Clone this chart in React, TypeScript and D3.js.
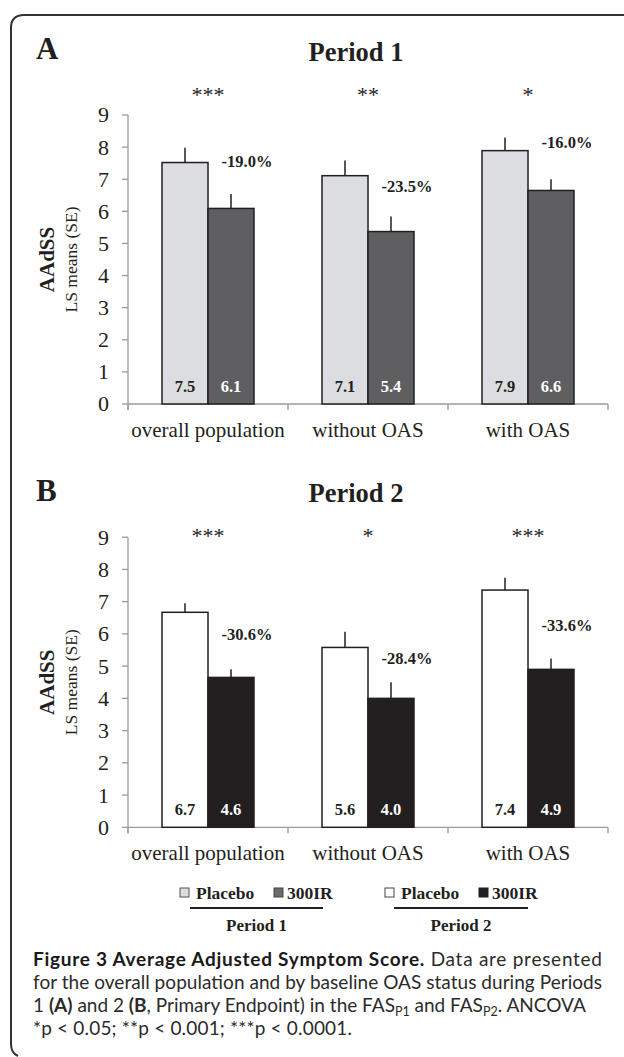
import React from "react";
import * as d3 from "d3";

const categories = ["overall population", "without OAS", "with OAS"];
const seriesKeys = ["Placebo", "300IR"];
const yTicks = [0, 1, 2, 3, 4, 5, 6, 7, 8, 9];

// Period 1
const p1Placebo = [7.52, 7.11, 7.89];
const p1Active = [6.09, 5.37, 6.65];
const p1PlaceboSE = [0.46, 0.47, 0.41];
const p1ActiveSE = [0.45, 0.47, 0.35];
const p1PlaceboLabels = ["7.5", "7.1", "7.9"];
const p1ActiveLabels = ["6.1", "5.4", "6.6"];
const p1Pct = ["-19.0%", "-23.5%", "-16.0%"];
const p1PctLevel = [7.55, 6.77, 8.14];
const p1Stars = ["***", "**", "*"];

// Period 2
const p2Placebo = [6.67, 5.58, 7.36];
const p2Active = [4.65, 4.0, 4.9];
const p2PlaceboSE = [0.28, 0.49, 0.38];
const p2ActiveSE = [0.25, 0.5, 0.34];
const p2PlaceboLabels = ["6.7", "5.6", "7.4"];
const p2ActiveLabels = ["4.6", "4.0", "4.9"];
const p2Pct = ["-30.6%", "-28.4%", "-33.6%"];
const p2PctLevel = [5.97, 5.24, 6.26];
const p2Stars = ["***", "*", "***"];

const SERIF = "'Liberation Serif', 'Times New Roman', serif";
const SANS = "Lato, 'Open Sans', sans-serif";
const INK = "#231f20";
const AXIS = "#9a9a9a";

const xScale = d3.scaleBand<string>().domain(categories).range([128, 608]).padding(0);
const inner = d3
  .scaleBand<string>()
  .domain(seriesKeys)
  .range([0, xScale.bandwidth()])
  .paddingInner(0)
  .paddingOuter(0.739);

type PanelProps = {
  letter: string;
  title: string;
  y0: number;
  y9: number;
  letterY: number;
  titleY: number;
  starY: number;
  placebo: number[];
  active: number[];
  placeboSE: number[];
  activeSE: number[];
  placeboLabels: string[];
  activeLabels: string[];
  pct: string[];
  pctLevel: number[];
  stars: string[];
  placeboFill: string;
  activeFill: string;
};

function Panel(p: PanelProps) {
  const y = d3.scaleLinear().domain([0, 9]).range([p.y0, p.y9]);
  const xr = xScale.range();
  const midY = (p.y0 + p.y9) / 2;
  return (
    <g>
      <text x={36} y={p.letterY} fontFamily={SERIF} fontWeight="bold" fontSize={31} fill={INK}>
        {p.letter}
      </text>
      <text x={356} y={p.titleY} textAnchor="middle" fontFamily={SERIF} fontWeight="bold" fontSize={26.5} fill={INK}>
        {p.title}
      </text>
      {categories.map((c, i) => (
        <text
          key={"s" + c}
          x={(xScale(c) as number) + xScale.bandwidth() / 2}
          y={p.starY}
          textAnchor="middle"
          fontFamily={SERIF}
          fontSize={22}
          fill="#222"
        >
          {p.stars[i]}
        </text>
      ))}
      {/* y axis */}
      <line x1={xr[0]} x2={xr[0]} y1={y(9)} y2={y(0) + 6} stroke={AXIS} strokeWidth={1.3} />
      {yTicks.map((t) => (
        <g key={"t" + t}>
          <line x1={xr[0] - 6} x2={xr[0]} y1={y(t)} y2={y(t)} stroke={AXIS} strokeWidth={1.3} />
          <text
            x={xr[0] - 19}
            y={y(t)}
            dy="0.34em"
            textAnchor="end"
            fontFamily={SERIF}
            fontSize={22}
            fill={INK}
          >
            {t}
          </text>
        </g>
      ))}
      {/* x axis */}
      <line x1={xr[0]} x2={xr[1]} y1={y(0)} y2={y(0)} stroke={AXIS} strokeWidth={1.3} />
      {[...categories.map((c) => xScale(c) as number), xr[1]].map((xx, i) => (
        <line key={"xt" + i} x1={xx} x2={xx} y1={y(0)} y2={y(0) + 6} stroke={AXIS} strokeWidth={1.3} />
      ))}
      {/* axis title */}
      <text
        transform={`translate(54,${midY}) rotate(-90)`}
        textAnchor="middle"
        fontFamily={SERIF}
        fontWeight="bold"
        fontSize={21}
        fill={INK}
      >
        AAdSS
      </text>
      <text
        transform={`translate(77,${midY}) rotate(-90)`}
        textAnchor="middle"
        fontFamily={SERIF}
        fontSize={17.5}
        fill={INK}
      >
        LS means (SE)
      </text>
      {categories.map((c, i) => {
        const gx = xScale(c) as number;
        const bw = inner.bandwidth();
        const series = [
          { key: "Placebo", v: p.placebo[i], se: p.placeboSE[i], lab: p.placeboLabels[i], fill: p.placeboFill, tc: INK },
          { key: "300IR", v: p.active[i], se: p.activeSE[i], lab: p.activeLabels[i], fill: p.activeFill, tc: "#ffffff" },
        ];
        return (
          <g key={"g" + c}>
            {series.map((s) => {
              const bx = gx + (inner(s.key) as number);
              const cx = bx + bw / 2;
              return (
                <g key={s.key}>
                  <line x1={cx} x2={cx} y1={y(s.v)} y2={y(s.v + s.se)} stroke={INK} strokeWidth={1.5} />
                  <rect
                    x={bx}
                    y={y(s.v)}
                    width={bw}
                    height={y(0) - y(s.v)}
                    fill={s.fill}
                    stroke={INK}
                    strokeWidth={1.5}
                  />
                  <text
                    x={cx}
                    y={y(0) - 18}
                    dy="0.34em"
                    textAnchor="middle"
                    fontFamily={SERIF}
                    fontWeight="bold"
                    fontSize={16.5}
                    fill={s.tc}
                  >
                    {s.lab}
                  </text>
                </g>
              );
            })}
            <text
              x={gx + xScale.bandwidth() / 2 + 39}
              y={y(p.pctLevel[i])}
              dy="0.34em"
              textAnchor="middle"
              fontFamily={SERIF}
              fontWeight="bold"
              fontSize={16.5}
              fill={INK}
            >
              {p.pct[i]}
            </text>
          </g>
        );
      })}
      {categories.map((c) => (
        <text
          key={"c" + c}
          x={(xScale(c) as number) + xScale.bandwidth() / 2}
          y={p.y0 + 33}
          textAnchor="middle"
          fontFamily={SERIF}
          fontSize={21}
          fill={INK}
        >
          {c}
        </text>
      ))}
    </g>
  );
}

function LegendGroup(props: {
  x: number;
  fills: string[];
  strokes: string[];
  label: string;
  lineX1: number;
  lineX2: number;
}) {
  const { x, fills, strokes, label, lineX1, lineX2 } = props;
  return (
    <g>
      <rect x={x} y={888} width={9} height={9} fill={fills[0]} stroke={strokes[0]} strokeWidth={1} />
      <text x={x + 16} y={898.5} fontFamily={SERIF} fontWeight="bold" fontSize={17.5} fill={INK}>
        {seriesKeys[0]}
      </text>
      <rect x={x + 94} y={888} width={9} height={9} fill={fills[1]} stroke={strokes[1]} strokeWidth={1} />
      <text x={x + 107} y={898.5} fontFamily={SERIF} fontWeight="bold" fontSize={17.5} fill={INK}>
        {seriesKeys[1]}
      </text>
      <line x1={lineX1} x2={lineX2} y1={908} y2={908} stroke={INK} strokeWidth={1.8} />
      <text
        x={(lineX1 + lineX2) / 2}
        y={931}
        textAnchor="middle"
        fontFamily={SERIF}
        fontWeight="bold"
        fontSize={17}
        fill={INK}
      >
        {label}
      </text>
    </g>
  );
}

export default function App() {
  return (
    <svg
      width={624}
      height={1057}
      viewBox="0 0 624 1057"
      style={{ position: "absolute", left: 0, top: 0, background: "#fff" }}
    >
      <rect x={0} y={0} width={624} height={1057} fill="#fff" />
      <path
        d="M 630 15 H 24 Q 11 15 11 28 V 1044 Q 11 1053 18 1056"
        fill="none"
        stroke="#333"
        strokeWidth={2}
      />
      <Panel
        letter="A"
        title="Period 1"
        y0={404}
        y9={115}
        letterY={59}
        titleY={61}
        starY={102}
        placebo={p1Placebo}
        active={p1Active}
        placeboSE={p1PlaceboSE}
        activeSE={p1ActiveSE}
        placeboLabels={p1PlaceboLabels}
        activeLabels={p1ActiveLabels}
        pct={p1Pct}
        pctLevel={p1PctLevel}
        stars={p1Stars}
        placeboFill="#dcdde0"
        activeFill="#5f5f62"
      />
      <Panel
        letter="B"
        title="Period 2"
        y0={827.3}
        y9={537.2}
        letterY={501}
        titleY={502}
        starY={543}
        placebo={p2Placebo}
        active={p2Active}
        placeboSE={p2PlaceboSE}
        activeSE={p2ActiveSE}
        placeboLabels={p2PlaceboLabels}
        activeLabels={p2ActiveLabels}
        pct={p2Pct}
        pctLevel={p2PctLevel}
        stars={p2Stars}
        placeboFill="#ffffff"
        activeFill={INK}
      />
      <LegendGroup
        x={180}
        fills={["#dcdde0", "#6b6b6e"]}
        strokes={["#555", "#444"]}
        label="Period 1"
        lineX1={190}
        lineX2={323}
      />
      <LegendGroup
        x={385}
        fills={["#ffffff", INK]}
        strokes={["#444", INK]}
        label="Period 2"
        lineX1={394}
        lineX2={528}
      />
      <g fontFamily={SANS} fontSize={19} fill="#2b2b2b">
        <text x={33} y={966} textLength={569} lengthAdjust="spacing">
          <tspan fontWeight="bold" fill="#1a1a1a">Figure 3 Average Adjusted Symptom Score.</tspan>
          <tspan> Data are presented</tspan>
        </text>
        <text x={33} y={989} textLength={569} lengthAdjust="spacing">
          for the overall population and by baseline OAS status during Periods
        </text>
        <text x={33} y={1012}>
          <tspan>1 </tspan>
          <tspan fontWeight="bold">(A)</tspan>
          <tspan> and 2 </tspan>
          <tspan fontWeight="bold">(B</tspan>
          <tspan>, Primary Endpoint) in the FAS</tspan>
          <tspan fontSize={12.5} dy={4}>P1</tspan>
          <tspan dy={-4}> and FAS</tspan>
          <tspan fontSize={12.5} dy={4}>P2</tspan>
          <tspan dy={-4}>. ANCOVA</tspan>
        </text>
        <text x={33} y={1035} textLength={319} lengthAdjust="spacing">
          *p &lt; 0.05; **p &lt; 0.001; ***p &lt; 0.0001.
        </text>
      </g>
    </svg>
  );
}
